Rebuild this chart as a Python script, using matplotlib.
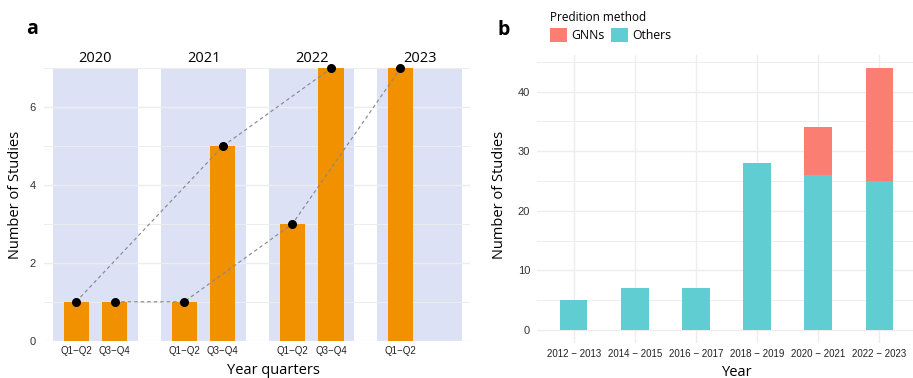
import matplotlib
matplotlib.use("Agg")
import matplotlib.pyplot as plt
from matplotlib.patches import Rectangle, Patch
import numpy as np

# ---- panel a: studies per half-year ----
years = ["2020", "2021", "2022", "2023"]
halves = ["Q1\u2212Q2", "Q3\u2212Q4"]
first_half = [1, 1, 3, 7]        # Q1-Q2 of each year
second_half = [1, 5, 7]          # Q3-Q4 (2023 not yet available)
# dashed trend paths, as (year index, half index) sequences
trend_paths = [
    [(0, 0), (1, 1), (2, 1)],
    [(0, 1), (1, 0), (2, 0), (3, 0)],
]

# ---- panel b: studies per two-year period ----
periods = ["2012 \u2212 2013", "2014 \u2212 2015", "2016 \u2212 2017",
           "2018 \u2212 2019", "2020 \u2212 2021", "2022 \u2212 2023"]
others = [5, 7, 7, 28, 26, 25]
gnns = [0, 0, 0, 0, 8, 19]

ORANGE = "#F29100"
LAVENDER = "#DCE1F5"
SALMON = "#FA7F72"
TEAL = "#5FCDD1"
GRID = "#EDEDED"
TITLE_FONT = "Open Sans"
TICK_FONT = "Liberation Sans"

W, H = 913, 378
fig = plt.figure(figsize=(W / 100, H / 100), dpi=100)


def fx(px):
    return px / W


def fy(py):
    return 1 - py / H


# ---------------- panel a ----------------
axa = fig.add_axes([fx(44), fy(340.7), fx(470 - 44), (340.7 - 68) / H])
facet_step = 2.8
ytop = 7.01
values = [[first_half[i]] + ([second_half[i]] if i < len(second_half) else [])
          for i in range(len(years))]


def xpos(yi, hi):
    return yi * facet_step + 1 + hi


tick_pos, tick_lab = [], []
for yi, year in enumerate(years):
    off = yi * facet_step
    axa.add_patch(Rectangle((off + 0.4, 0), 2.2, ytop, facecolor=LAVENDER,
                            edgecolor="none", zorder=0.1))
    xs = [xpos(yi, hi) for hi in range(len(values[yi]))]
    axa.bar(xs, values[yi], width=0.65, color=ORANGE, zorder=2)
    tick_pos += xs
    tick_lab += halves[:len(values[yi])]
    axa.annotate(year, xy=(off + 1.5, 1.0), xycoords=("data", "axes fraction"),
                 xytext=(0, 1.5), textcoords="offset points", ha="center",
                 va="bottom", fontsize=10.5, family=TITLE_FONT)

for path in trend_paths:
    px = [xpos(yi, hi) for yi, hi in path]
    py = [values[yi][hi] for yi, hi in path]
    axa.plot(px, py, linestyle=(0, (3, 2.5)), color="#8A8A8A", linewidth=0.85,
             zorder=3)

all_x = [xpos(yi, hi) for yi in range(len(years)) for hi in range(len(values[yi]))]
all_y = [values[yi][hi] for yi in range(len(years)) for hi in range(len(values[yi]))]
axa.scatter(all_x, all_y, s=30, color="black", zorder=4, clip_on=False)

axa.set_xlim(0.17, 11.2)
axa.set_ylim(0, ytop)
axa.set_xticks(tick_pos)
axa.set_xticklabels(tick_lab, fontsize=7, family=TICK_FONT, color="#222222")
axa.set_yticks([0, 2, 4, 6])
axa.set_yticks([1, 3, 5, 7], minor=True)
axa.set_yticklabels(["0", "2", "4", "6"], fontsize=8, family=TICK_FONT,
                    color="#333333")
axa.tick_params(axis="both", which="both", length=0)
axa.tick_params(axis="x", pad=4)
axa.tick_params(axis="y", pad=6)
axa.set_axisbelow(True)
axa.grid(axis="y", which="major", color=GRID, linewidth=1.0)
axa.grid(axis="y", which="minor", color=GRID, linewidth=0.7)
for s in axa.spines.values():
    s.set_visible(False)

fig.text(fx(273), fy(371), "Year quarters", ha="center", va="center",
         fontsize=10.5, family=TITLE_FONT)
fig.text(fx(16), fy(195), "Number of Studies", ha="center", va="center",
         rotation=90, fontsize=10.5, family=TITLE_FONT)
fig.text(fx(32), fy(29), "a", ha="center", va="center", fontsize=14,
         fontweight="bold", family=TITLE_FONT)

# ---------------- panel b ----------------
axb = fig.add_axes([fx(537), fy(343), fx(913 - 537), (343 - 54.6) / H])
xb = np.arange(1, len(periods) + 1)
axb.bar(xb, others, width=0.45, color=TEAL, zorder=2, label="Others")
axb.bar(xb, gnns, width=0.45, bottom=others, color=SALMON, zorder=2,
        label="GNNs")
axb.set_xlim(0.4, 6.55)
axb.set_ylim(-2.2, 46.2)
axb.set_xticks(xb)
axb.set_xticklabels(periods, fontsize=7, family=TICK_FONT, color="#222222")
axb.set_yticks([0, 10, 20, 30, 40])
axb.set_yticks([5, 15, 25, 35, 45], minor=True)
axb.set_yticklabels(["0", "10", "20", "30", "40"], fontsize=8,
                    family=TICK_FONT, color="#333333")
axb.tick_params(axis="both", which="both", length=0)
axb.tick_params(axis="x", pad=4)
axb.tick_params(axis="y", pad=5)
axb.set_axisbelow(True)
axb.grid(axis="both", which="major", color=GRID, linewidth=1.0)
axb.grid(axis="y", which="minor", color=GRID, linewidth=0.7)
for s in axb.spines.values():
    s.set_visible(False)

fig.text(fx(737), fy(372), "Year", ha="center", va="center", fontsize=10.5,
         family=TITLE_FONT)
fig.text(fx(499), fy(195), "Number of Studies", ha="center", va="center",
         rotation=90, fontsize=10.5, family=TITLE_FONT)
fig.text(fx(504), fy(30), "b", ha="center", va="center", fontsize=14,
         fontweight="bold", family=TITLE_FONT)

handles = [Patch(facecolor=SALMON, label="GNNs"),
           Patch(facecolor=TEAL, label="Others")]
leg = fig.legend(handles=handles, title="Predition method", ncol=2,
                 loc="upper left", bbox_to_anchor=(fx(550), fy(11)),
                 frameon=False, handlelength=1.4, handleheight=1.4,
                 handletextpad=0.35, columnspacing=0.5, borderpad=0,
                 borderaxespad=0, alignment="left", labelspacing=0.3,
                 prop={"family": TITLE_FONT, "size": 8.8},
                 title_fontproperties={"family": TITLE_FONT, "size": 8.5})

fig.savefig("out.png", dpi=100)
